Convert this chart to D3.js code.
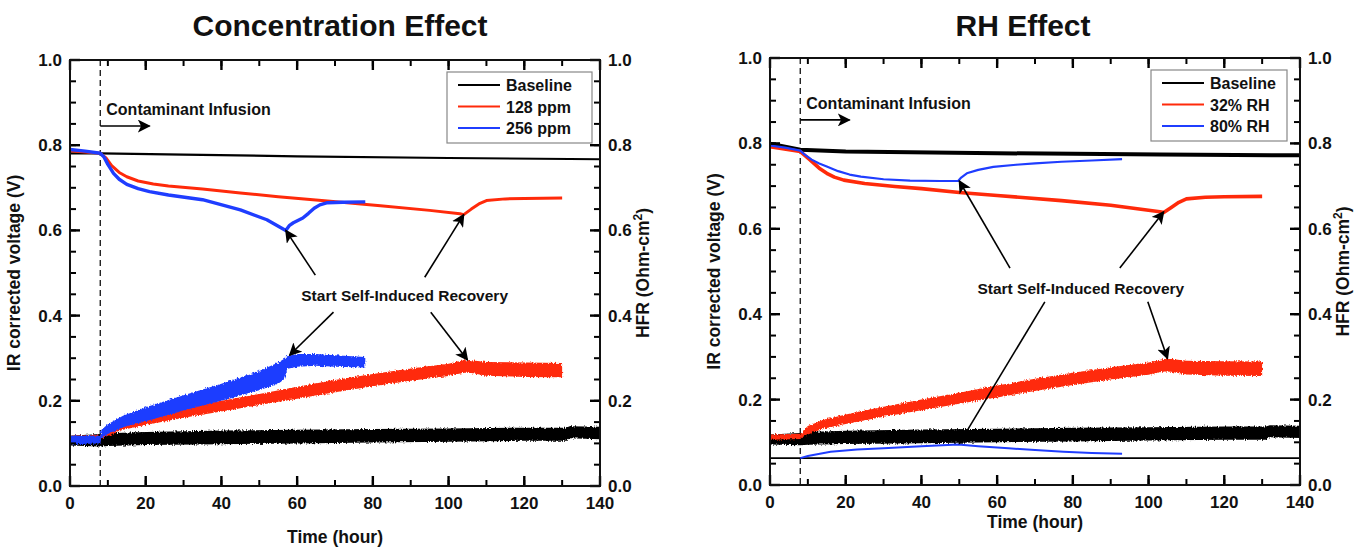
<!DOCTYPE html>
<html>
<head>
<meta charset="utf-8">
<script src="https://cdn.jsdelivr.net/npm/d3@7"></script>
<style>
body { margin: 0; background: #fff; }
text { font-family: "Liberation Sans", Arial, sans-serif; font-weight: bold; fill: #111; }
</style>
</head>
<body>
<svg width="1368" height="548"></svg>
<script>
// ---- data (time in hours) ----
const xTicks = [0, 20, 40, 60, 80, 100, 120, 140];
const yTicks = [0.0, 0.2, 0.4, 0.6, 0.8, 1.0];
const infusionTime = 8;

// IR corrected voltage, Concentration panel
const baseVoltLT = [0, 8, 30, 60, 100, 140];
const baseVoltL = [0.781, 0.781, 0.778, 0.774, 0.770, 0.767];
const ppm128VoltT = [0, 8, 9.5, 11, 13, 15, 18, 22, 26, 35, 45, 55, 68, 82, 95, 103, 104, 106, 108, 110, 115, 120, 130];
const ppm128Volt = [0.787, 0.781, 0.770, 0.752, 0.736, 0.726, 0.716, 0.709, 0.704, 0.697, 0.688, 0.679, 0.669, 0.658, 0.647, 0.639, 0.637, 0.650, 0.662, 0.670, 0.674, 0.675, 0.676];
const ppm256VoltT = [0, 4, 8, 9, 10, 11.5, 13, 15, 18, 21, 26, 35, 45, 52, 57, 58, 59, 61.5, 63, 64.5, 66, 68, 72, 78];
const ppm256Volt = [0.790, 0.786, 0.781, 0.772, 0.755, 0.734, 0.720, 0.708, 0.698, 0.691, 0.683, 0.672, 0.648, 0.625, 0.600, 0.612, 0.618, 0.629, 0.640, 0.652, 0.660, 0.665, 0.666, 0.667];

// IR corrected voltage, RH panel
const baseVoltRT = [0, 8, 20, 60, 103, 140];
const baseVoltR = [0.799, 0.785, 0.781, 0.777, 0.774, 0.772];
const rh32VoltT = [0, 8, 10.5, 13, 15, 17, 19.5, 25, 33, 40, 50, 60, 77, 90, 103, 104, 106, 108, 110, 115, 120, 130];
const rh32Volt = [0.792, 0.781, 0.762, 0.742, 0.730, 0.721, 0.714, 0.706, 0.699, 0.694, 0.685, 0.678, 0.666, 0.655, 0.640, 0.638, 0.650, 0.662, 0.670, 0.674, 0.675, 0.676];
const rh80VoltT = [0, 4, 8, 9, 11, 13, 15, 18, 21, 24, 30, 37, 45, 49.7, 50.5, 52, 55, 59, 65, 70, 77, 85, 93];
const rh80Volt = [0.795, 0.790, 0.783, 0.775, 0.762, 0.753, 0.746, 0.735, 0.727, 0.722, 0.716, 0.713, 0.712, 0.712, 0.720, 0.730, 0.738, 0.745, 0.750, 0.753, 0.757, 0.760, 0.763];

// HFR (noisy bands: lower / upper edge)
const baseHfrT = [0, 8, 10, 20, 40, 60, 80, 100, 120, 131, 132, 140];
const baseHfrLo = [0.095, 0.093, 0.094, 0.096, 0.098, 0.100, 0.102, 0.104, 0.106, 0.106, 0.112, 0.110];
const baseHfrHi = [0.118, 0.122, 0.124, 0.127, 0.130, 0.132, 0.134, 0.135, 0.137, 0.137, 0.140, 0.139];
const redHfrT = [0, 8, 8.5, 10, 14, 20, 30, 40, 50, 60, 70, 80, 90, 100, 104, 106, 110, 120, 130];
const redHfrLo = [0.106, 0.108, 0.112, 0.118, 0.132, 0.143, 0.160, 0.175, 0.190, 0.205, 0.220, 0.234, 0.247, 0.258, 0.266, 0.265, 0.259, 0.256, 0.255];
const redHfrHi = [0.118, 0.120, 0.125, 0.138, 0.152, 0.165, 0.183, 0.200, 0.216, 0.233, 0.249, 0.263, 0.276, 0.287, 0.295, 0.295, 0.291, 0.290, 0.289];
const ppm256HfrT = [0, 8, 8.3, 10, 14, 20, 30, 40, 50, 55, 56.5, 57.5, 60, 65, 70, 78];
const ppm256HfrLo = [0.098, 0.100, 0.113, 0.122, 0.138, 0.152, 0.177, 0.200, 0.225, 0.240, 0.250, 0.275, 0.280, 0.282, 0.280, 0.278];
const ppm256HfrHi = [0.118, 0.118, 0.132, 0.145, 0.165, 0.185, 0.213, 0.240, 0.270, 0.290, 0.298, 0.305, 0.310, 0.310, 0.307, 0.303];
const rh80HfrT = [8, 10, 16, 23, 30, 40, 49.7, 55, 63, 70, 77.5, 85, 93];
const rh80Hfr = [0.063, 0.068, 0.078, 0.083, 0.086, 0.091, 0.095, 0.091, 0.086, 0.082, 0.078, 0.075, 0.073];
const rhRefLineT = [0, 140];
const rhRefLine = [0.063, 0.063];

// annotations [from t, from v, to t, to v]
const arrowsL = [[64.8, 0.495, 57, 0.600], [93.7, 0.490, 104, 0.637], [69.6, 0.408, 58, 0.307], [95.3, 0.408, 105, 0.296]];
const arrowsR = [[63.4, 0.508, 50, 0.712], [92.4, 0.508, 104, 0.640], [72.6, 0.429, 50, 0.097], [99.8, 0.429, 105, 0.296]];

const RED = "#ff2a0a", BLUE = "#1f3dff";

const zip = (t, v) => t.map((d, i) => [d, v[i]]);
const zip3 = (t, lo, hi) => t.map((d, i) => [d, lo[i], hi[i]]);

const svg = d3.select("svg");
const defs = svg.append("defs");
const f = defs.append("filter").attr("id", "noise").attr("x", "-2%").attr("y", "-20%").attr("width", "104%").attr("height", "140%");
f.append("feTurbulence").attr("type", "fractalNoise").attr("baseFrequency", "0.9 0.35").attr("numOctaves", 2).attr("seed", 3).attr("result", "n");
f.append("feDisplacementMap").attr("in", "SourceGraphic").attr("in2", "n").attr("scale", 4).attr("xChannelSelector", "R").attr("yChannelSelector", "G");
defs.append("marker").attr("id", "head").attr("viewBox", "0 0 10 10").attr("refX", 9).attr("refY", 5)
  .attr("markerWidth", 13).attr("markerHeight", 13).attr("markerUnits", "userSpaceOnUse").attr("orient", "auto")
  .append("path").attr("d", "M0,0 L10,5 L0,10 L2.5,5 Z").attr("fill", "#000");

function panel(cfg) {
  const x = d3.scaleLinear().domain([0, 140]).range([cfg.x0, cfg.x1]);
  const y = d3.scaleLinear().domain([0, 1]).range([cfg.y0, cfg.y1]);
  const g = svg.append("g");
  const line = d3.line().x(d => x(d[0])).y(d => y(d[1]));
  const area = d3.area().x(d => x(d[0])).y0(d => y(d[1])).y1(d => y(d[2]));

  svg.append("text").attr("x", cfg.titleX).attr("y", 36).attr("text-anchor", "middle")
    .style("font-size", "30px").text(cfg.title);

  // dashed infusion line
  g.append("line").attr("x1", x(infusionTime)).attr("x2", x(infusionTime)).attr("y1", y(1)).attr("y2", y(0))
    .attr("stroke", "#222").attr("stroke-width", 1.4).attr("stroke-dasharray", "6,4");

  // HFR bands & voltage lines
  cfg.bands.forEach(b => {
    if (b.hi) g.append("path").datum(zip3(b.t, b.lo, b.hi)).attr("d", area).attr("fill", b.c).attr("filter", "url(#noise)");
    else g.append("path").datum(zip(b.t, b.v)).attr("d", line).attr("fill", "none").attr("stroke", b.c).attr("stroke-width", b.w || 2);
  });
  cfg.lines.forEach(b => g.append("path").datum(zip(b.t, b.v)).attr("d", line)
    .attr("fill", "none").attr("stroke", b.c).attr("stroke-width", b.w).attr("stroke-linejoin", "round"));

  // inward ticks on all four sides
  const minorY = d3.range(0, 1.0001, 0.05), minorX = d3.range(0, 141, 10);
  const tick = (x1, y1, x2, y2, w) => g.append("line").attr("x1", x1).attr("y1", y1).attr("x2", x2).attr("y2", y2)
    .attr("stroke", "#000").attr("stroke-width", w);
  minorY.forEach(d => { tick(cfg.x0, y(d), cfg.x0 + 6, y(d), 2); tick(cfg.x1, y(d), cfg.x1 - 6, y(d), 2); });
  yTicks.forEach(d => { tick(cfg.x0, y(d), cfg.x0 + 10, y(d), 2.4); tick(cfg.x1, y(d), cfg.x1 - 10, y(d), 2.4); });
  minorX.forEach(d => { tick(x(d), cfg.y0, x(d), cfg.y0 - 6, 2); tick(x(d), cfg.y1, x(d), cfg.y1 + 6, 2); });
  xTicks.forEach(d => { tick(x(d), cfg.y0, x(d), cfg.y0 - 10, 2.4); tick(x(d), cfg.y1, x(d), cfg.y1 + 10, 2.4); });

  const lab = g.append("g").style("font-size", "17px");
  lab.selectAll(null).data(yTicks).join("text").attr("x", cfg.x0 - 8).attr("y", d => y(d) + 6)
    .attr("text-anchor", "end").text(d3.format(".1f"));
  lab.selectAll(null).data(yTicks).join("text").attr("x", cfg.x1 + 8).attr("y", d => y(d) + 6)
    .text(d3.format(".1f"));
  lab.selectAll(null).data(xTicks).join("text").attr("x", d => x(d)).attr("y", cfg.y0 + 23)
    .attr("text-anchor", "middle").text(d => d);

  // frame
  g.append("rect").attr("x", cfg.x0).attr("y", cfg.y1).attr("width", cfg.x1 - cfg.x0).attr("height", cfg.y0 - cfg.y1)
    .attr("fill", "none").attr("stroke", "#111").attr("stroke-width", 2);

  // contaminant infusion
  g.append("text").attr("x", x(infusionTime) + 6).attr("y", y(cfg.infY) + 6).style("font-size", "16px").text("Contaminant Infusion");
  g.append("line").attr("x1", x(infusionTime)).attr("x2", x(21)).attr("y1", y(cfg.infY - 0.04)).attr("y2", y(cfg.infY - 0.04))
    .attr("stroke", "#000").attr("stroke-width", 1.6).attr("marker-end", "url(#head)");

  // recovery annotation
  g.append("text").attr("x", x(cfg.recT)).attr("y", y(cfg.recV) + 6).attr("text-anchor", "middle")
    .style("font-size", "15.5px").text("Start Self-Induced Recovery");
  cfg.arrows.forEach(a => g.append("line").attr("x1", x(a[0])).attr("y1", y(a[1])).attr("x2", x(a[2])).attr("y2", y(a[3]))
    .attr("stroke", "#000").attr("stroke-width", 1.6).attr("marker-end", "url(#head)"));

  // legend
  const lg = g.append("g").attr("transform", `translate(${cfg.legX},${cfg.legY})`);
  lg.append("rect").attr("width", cfg.legW).attr("height", 71).attr("fill", "#fff").attr("stroke", "#888").attr("stroke-width", 1.2);
  cfg.legend.forEach((d, i) => {
    lg.append("line").attr("x1", 11).attr("x2", 53).attr("y1", 13 + i * 21.5).attr("y2", 13 + i * 21.5)
      .attr("stroke", d[1]).attr("stroke-width", 2);
    lg.append("text").attr("x", 59).attr("y", 19 + i * 21.5).style("font-size", "16px").text(d[0]);
  });

  // axis titles
  svg.append("text").attr("x", (cfg.x0 + cfg.x1) / 2).attr("y", cfg.xLabY).attr("text-anchor", "middle")
    .style("font-size", "17.5px").text("Time (hour)");
  svg.append("text").attr("transform", `translate(${cfg.x0 - 50},${(cfg.y0 + cfg.y1) / 2}) rotate(-90)`)
    .attr("text-anchor", "middle").style("font-size", "17.5px").text("IR corrected voltage (V)");
  const h = svg.append("text").attr("transform", `translate(${cfg.x1 + 49},${(cfg.y0 + cfg.y1) / 2}) rotate(-90)`)
    .attr("text-anchor", "middle").style("font-size", "17.5px");
  h.append("tspan").text("HFR (Ohm-cm");
  h.append("tspan").attr("dy", -7).style("font-size", "12px").text("2");
  h.append("tspan").attr("dy", 7).text(")");
}

panel({
  title: "Concentration Effect", titleX: 340, x0: 70, x1: 600, y0: 486, y1: 60, xLabY: 543,
  bands: [
    { t: baseHfrT, lo: baseHfrLo, hi: baseHfrHi, c: "#000" },
    { t: redHfrT, lo: redHfrLo, hi: redHfrHi, c: RED },
    { t: ppm256HfrT, lo: ppm256HfrLo, hi: ppm256HfrHi, c: BLUE }
  ],
  lines: [
    { t: baseVoltLT, v: baseVoltL, c: "#000", w: 2.2 },
    { t: ppm128VoltT, v: ppm128Volt, c: RED, w: 3 },
    { t: ppm256VoltT, v: ppm256Volt, c: BLUE, w: 3.4 }
  ],
  infY: 0.885, recT: 88.4, recV: 0.448, arrows: arrowsL,
  legX: 447, legY: 72, legW: 145,
  legend: [["Baseline", "#000"], ["128 ppm", RED], ["256 ppm", BLUE]]
});

panel({
  title: "RH Effect", titleX: 1023, x0: 770, x1: 1300, y0: 485, y1: 58, xLabY: 528,
  bands: [
    { t: rhRefLineT, v: rhRefLine, c: "#000", w: 1.6 },
    { t: baseHfrT, lo: baseHfrLo, hi: baseHfrHi, c: "#000" },
    { t: redHfrT, lo: redHfrLo, hi: redHfrHi, c: RED },
    { t: rh80HfrT, v: rh80Hfr, c: BLUE, w: 2 }
  ],
  lines: [
    { t: baseVoltRT, v: baseVoltR, c: "#000", w: 4 },
    { t: rh32VoltT, v: rh32Volt, c: RED, w: 3.6 },
    { t: rh80VoltT, v: rh80Volt, c: BLUE, w: 2.2 }
  ],
  infY: 0.895, recT: 82.1, recV: 0.461, arrows: arrowsR,
  legX: 1151, legY: 70, legW: 136,
  legend: [["Baseline", "#000"], ["32% RH", RED], ["80% RH", BLUE]]
});
</script>
</body>
</html>
